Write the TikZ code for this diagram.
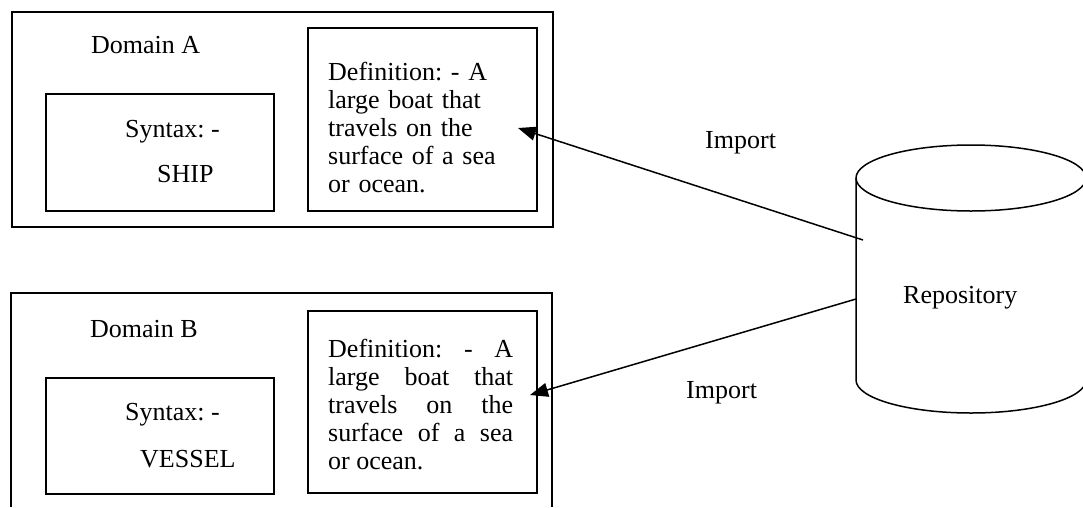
\documentclass[tikz,border=0pt]{standalone}
\usepackage{fontspec}
\setmainfont{Liberation Serif}
\usetikzlibrary{arrows.meta}
\frenchspacing

\begin{document}
\begin{tikzpicture}[x=1pt,y=1pt,
  every node/.style={inner sep=0pt, font=\fontsize{26}{28}\selectfont},
  frame/.style={draw, line width=1.5pt},
  box/.style={draw, line width=1.5pt, inner sep=0pt, anchor=north west},
  deftext/.style={anchor=north west, text width=185pt},
  importline/.style={line width=1.5pt, -{Triangle[length=18pt,width=14pt]}}
]
\useasboundingbox (0,0) rectangle (1083,-507);

% Domain A
\node[box, minimum width=541pt, minimum height=215pt] (domA) at (11,-11) {};
\node[anchor=base west] (domAlabel) at (91,-53) {Domain A};
\node[box, minimum width=228pt, minimum height=117pt] (synA) at (45,-93) {};
\node[anchor=base west] (synAlab) at (125,-137) {Syntax: -};
\node[anchor=base west] (synAval) at (157,-182) {SHIP};
\node[box, minimum width=229pt, minimum height=183pt] (defA) at (307,-27) {};
\node[deftext, align=left] (defAtext) at (328,-62) {Definition: - A\\large boat that\\travels on the\\surface of a sea\\or ocean.};

% Domain B (frame runs on past the lower edge)
\draw[frame] (11,-507) -- (11,-293) -- (552,-293) -- (552,-507);
\node[anchor=base west] (domBlabel) at (90,-337) {Domain B};
\node[box, minimum width=228pt, minimum height=116pt] (synB) at (45,-377) {};
\node[anchor=base west] (synBlab) at (125,-420) {Syntax: -};
\node[anchor=base west] (synBval) at (140,-467) {VESSEL};
\node[box, minimum width=229pt, minimum height=182pt] (defB) at (307,-310) {};
\node[deftext, align=justify] (defBtext) at (328,-339) {Definition: - A\linebreak large boat that\linebreak travels on the\linebreak surface of a sea\linebreak or ocean.};

% Repository cylinder
\draw[line width=1.5pt] (856,-178) -- (856,-380)
  arc[start angle=180, end angle=360, x radius=115, y radius=33] -- (1086,-178);
\draw[line width=1.5pt] (971,-178) ellipse [x radius=115, y radius=33];
\node[anchor=base west] (repo) at (903,-303) {Repository};

% Import connectors
\coordinate (repoA) at (863,-240);
\coordinate (repoB) at (856,-299);
\coordinate (tipA) at (518,-128);
\coordinate (tipB) at (530,-395);
\draw[importline] (repoA) -- (tipA);
\draw[importline] (repoB) -- (tipB);
\node[anchor=base west] (impA) at (705,-148) {Import};
\node[anchor=base west] (impB) at (686,-398) {Import};
\end{tikzpicture}
\end{document}
